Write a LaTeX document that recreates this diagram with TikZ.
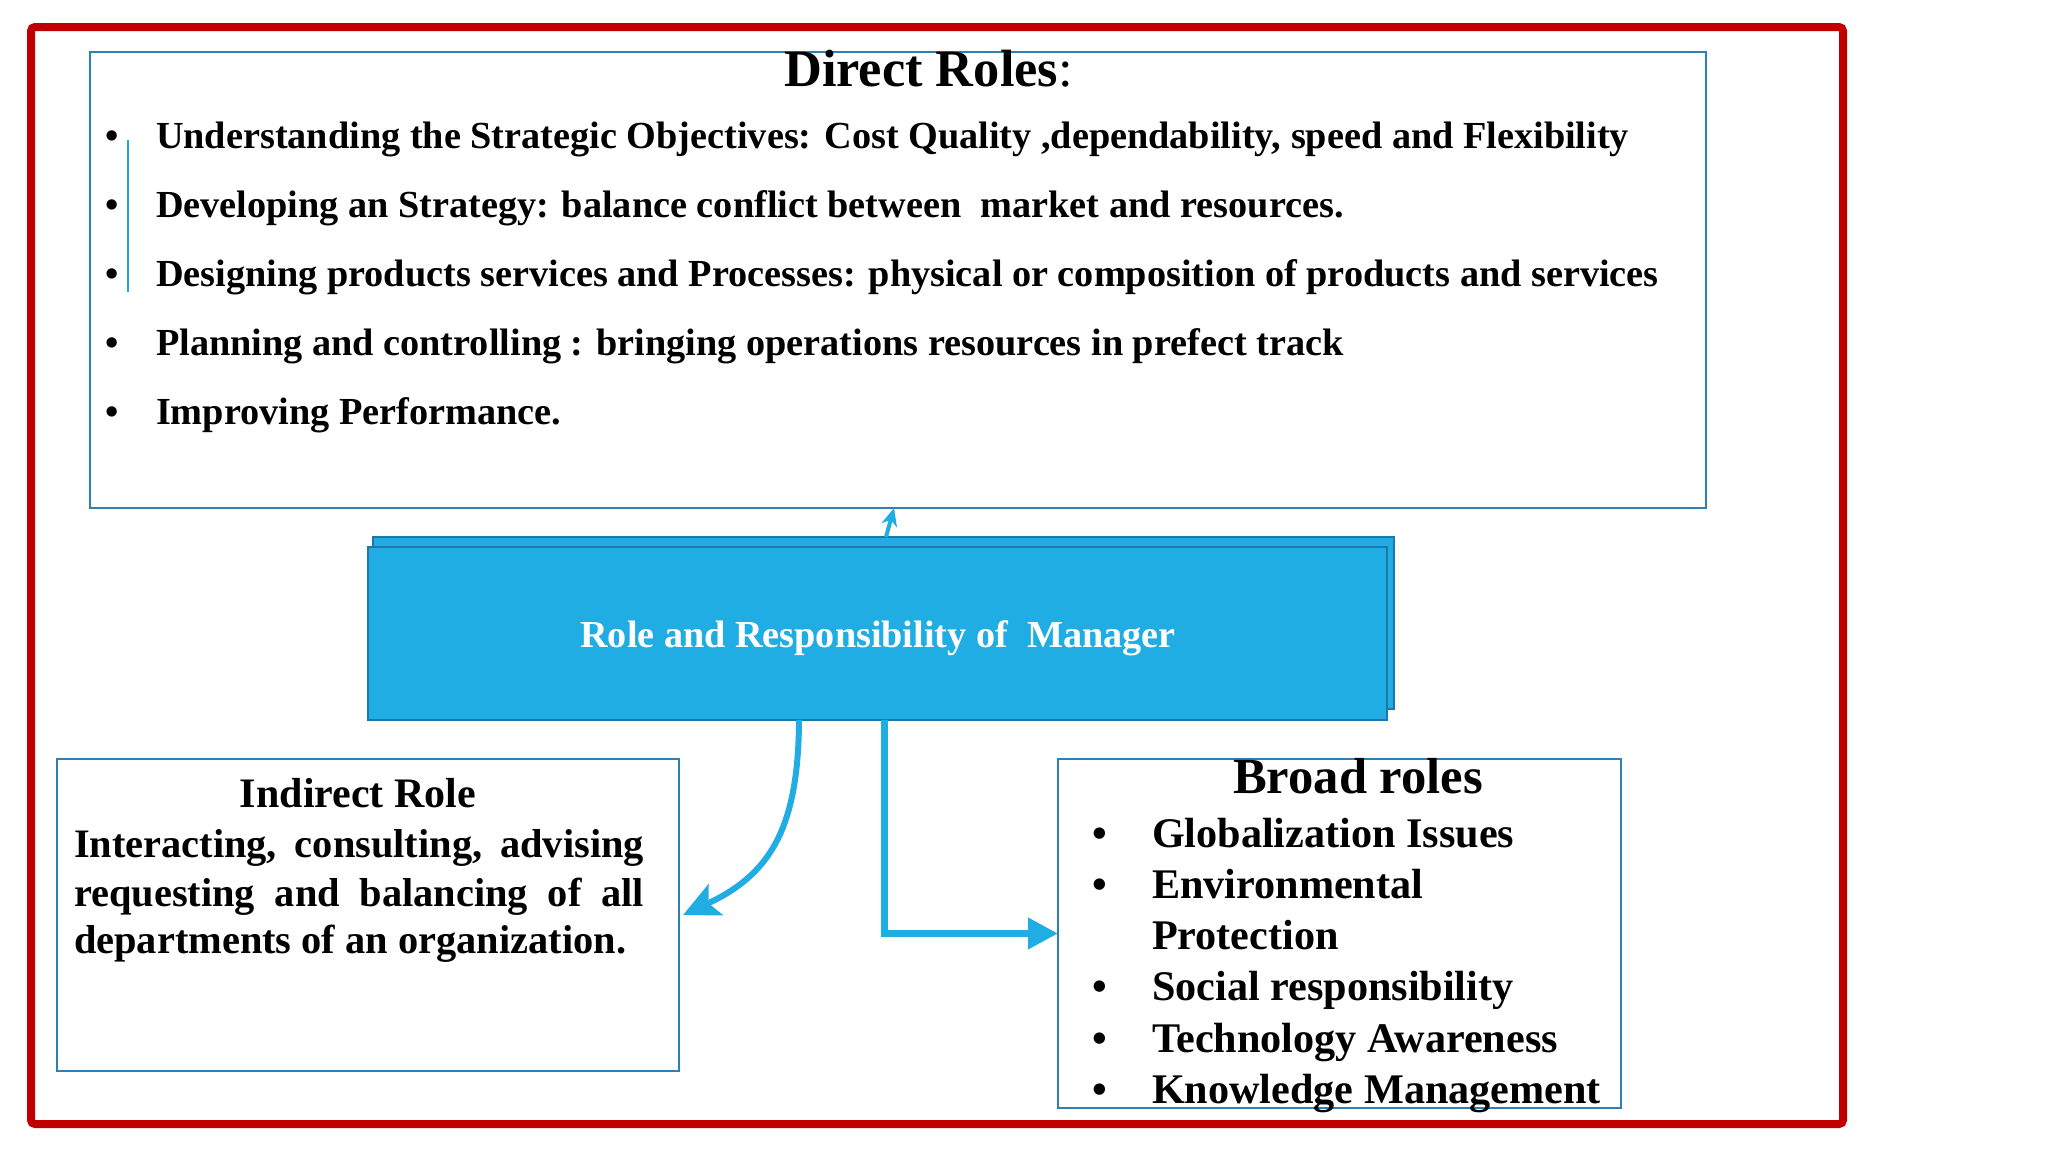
\documentclass[tikz,border=0pt]{standalone}
\usepackage{fontspec}
\setmainfont{Liberation Serif}
\usetikzlibrary{arrows.meta,calc}
\definecolor{frameRed}{HTML}{C00000}
\definecolor{boxBlue}{HTML}{2E7FB4}
\definecolor{mgrFill}{HTML}{1FADE3}
\definecolor{mgrEdge}{HTML}{1B78A8}
\definecolor{arrowBlue}{HTML}{1FADE3}
\definecolor{thinBlue}{HTML}{1EA7DC}
\newcommand{\fsz}[1]{\fontsize{#1}{1.2\dimexpr#1\relax}\selectfont\bfseries}
\begin{document}
\begin{tikzpicture}[x=0.5pt,y=-0.5pt,
  txt/.style={inner sep=0pt, outer sep=0pt, anchor=base west},
  ctxt/.style={inner sep=0pt, outer sep=0pt, anchor=base},
  panel/.style={draw=boxBlue, line width=1.2pt, fill=white, inner sep=0pt, outer sep=0pt},
  mgrbox/.style={draw=mgrEdge, line width=0.9pt, fill=mgrFill, inner sep=0pt, outer sep=0pt},
  flow/.style={draw=arrowBlue, line width=3pt},
  dline/.style={txt, font=\fsz{19.13pt}},
  bline/.style={txt, font=\fsz{21.1pt}},
]
\useasboundingbox (0,0) rectangle (2048,1152);
\fill[white] (0,0) rectangle (2048,1152);

% outer red frame
\node[draw=frameRed, line width=4pt, rounded corners=2pt, minimum width=906pt, minimum height=548.5pt, inner sep=0pt] (frame) at (937,575.5) {};

% Direct roles panel
\node[panel, minimum width=808pt, minimum height=228pt] (direct) at (898,280) {};
\node[ctxt, font=\fsz{26.2pt}] (dtitle) at (928.5,86) {Direct Roles{\mdseries:}};
\draw[thinBlue, line width=1pt] (128,140) coordinate (tl1) -- (128,292) coordinate (tl2);
\foreach \y/\nm in {148/db1,217/db2,286/db3,355/db4,424/db5}{
  \node[ctxt, font=\fsz{19pt}] (\nm) at (112,\y) {\textbullet};
}
\node[dline] (d1) at (156,148) {Understanding the Strategic Objectives: Cost Quality ,dependability, speed and Flexibility};
\node[dline] (d2) at (156,217) {Developing an Strategy: balance conflict between\ \ market and resources.};
\node[dline] (d3) at (156,286) {Designing products services and Processes: physical or composition of products and services};
\node[dline] (d4) at (156,355) {Planning and controlling : bringing operations resources in prefect track};
\node[dline] (d5) at (156,424) {Improving Performance.};

% Manager box
\node[mgrbox, minimum width=510.5pt, minimum height=86pt] (mgrback) at (883.5,623) {};
\node[mgrbox, minimum width=509.5pt, minimum height=86.5pt] (mgr) at (877.5,633.5) {};
\node[ctxt, text=white, font=\fsz{19.1pt}] (mgrtext) at (878,647) {Role and Responsibility of\ \ Manager};

% Indirect role panel
\node[panel, minimum width=311pt, minimum height=156pt] (ind) at (368,915) {};
\node[ctxt, font=\fsz{21pt}] (indtitle) at (358,807) {Indirect Role};
\node[txt, font=\fsz{20.2pt}] (ind1) at (74,857) {\makebox[285pt][s]{Interacting, consulting, advising}};
\node[txt, font=\fsz{20.2pt}] (ind2) at (74,906) {\makebox[285pt][s]{requesting and balancing of all}};
\node[txt, font=\fsz{20.2pt}] (ind3) at (74,953) {departments of an organization.};

% Broad roles panel
\node[panel, minimum width=281.5pt, minimum height=174.5pt] (broad) at (1339.5,933.5) {};
\node[ctxt, font=\fsz{25.3pt}] (btitle) at (1358,793) {Broad roles};
\foreach \y/\nm in {847/bb1,898/bb2,1000/bb4,1052/bb5,1103/bb6}{
  \node[ctxt, font=\fsz{21pt}] (\nm) at (1100,\y) {\textbullet};
}
\node[bline] (b1) at (1152,847) {Globalization Issues};
\node[bline] (b2) at (1152,898) {Environmental};
\node[bline] (b3) at (1152,949) {Protection};
\node[bline] (b4) at (1152,1000) {Social responsibility};
\node[bline] (b5) at (1152,1052) {Technology Awareness};
\node[bline] (b6) at (1152,1103) {Knowledge Management};

% connectors
\draw[flow, line width=2pt, -{Stealth[length=9pt,width=8pt]}]
  ([xshift=1.25pt]mgrback.north) -- ([xshift=-2pt]direct.south);
\draw[flow, -{Stealth[length=18pt,width=17pt,inset=4pt]}]
  ([xshift=-39.25pt]mgr.south)
  .. controls ([xshift=-39.5pt,yshift=-55pt]mgr.south) and ([xshift=45pt,yshift=20pt]ind.east)
  .. ([xshift=2pt]ind.east);
\draw[flow, line width=3.5pt, -{Triangle[length=15pt,width=15pt]}]
  ([xshift=3.25pt]mgr.south) |- (broad.west);
\end{tikzpicture}
\end{document}
